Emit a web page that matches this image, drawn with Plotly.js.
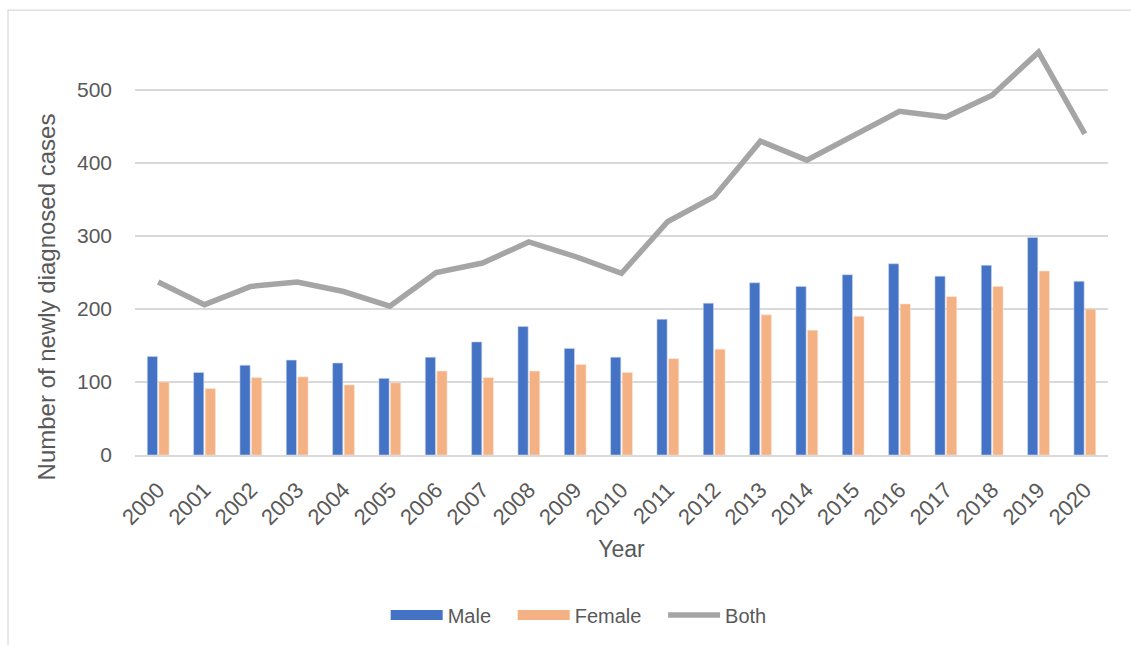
<!DOCTYPE html>
<html>
<head>
<meta charset="utf-8">
<script src="https://cdn.plot.ly/plotly-3.0.1.min.js"></script>
<style>
html,body{margin:0;padding:0;background:#fff;}
#chart{width:1131px;height:645px;}
</style>
</head>
<body>
<div id="chart"></div>
<script>
const years = ["2000","2001","2002","2003","2004","2005","2006","2007","2008","2009","2010","2011","2012","2013","2014","2015","2016","2017","2018","2019","2020"];
const male = [135,113,123,130,126,105,134,155,176,146,134,186,208,236,231,247,262,245,260,298,238];
const female = [100,91,106,107,96,99,115,106,115,124,113,132,145,192,171,190,207,217,231,252,200];
const both = [237,206,231,237,224,204,250,263,292,272,249,320,354,430,404,437,471,463,493,552,440];
const seriesNames = ["Male","Female","Both"];
const seriesColors = ["#4472C4","#F4B183","#A5A5A5"];
const yTitle = "Number of newly diagnosed cases";
const xTitle = "Year";

const fontFamily = '"Liberation Sans", Arial, sans-serif';
const textColor = '#595959';
const pad = '\u00a0\u00a0\u00a0';

const data = [
  {type:'bar', name:seriesNames[0], x:years, y:male, showlegend:false, marker:{color:seriesColors[0], line:{color:'#c9d6ee', width:0.6}}},
  {type:'bar', name:seriesNames[1], x:years, y:female, showlegend:false, marker:{color:seriesColors[1], line:{color:'#fbe2cf', width:0.6}}},
  {type:'scatter', mode:'lines', name:seriesNames[2], x:years, y:both, showlegend:false, line:{color:seriesColors[2], width:5.5}},
  // legend-only entries (wide rectangular swatches like the original)
  {type:'scatter', mode:'lines', name:seriesNames[0] + pad, x:[null], y:[null], line:{color:seriesColors[0], width:10}, hoverinfo:'skip'},
  {type:'scatter', mode:'lines', name:seriesNames[1] + pad, x:[null], y:[null], line:{color:seriesColors[1], width:10}, hoverinfo:'skip'},
  {type:'scatter', mode:'lines', name:seriesNames[2], x:[null], y:[null], line:{color:seriesColors[2], width:5.5}, hoverinfo:'skip'}
];

const layout = {
  width:1131, height:645,
  margin:{l:135, r:23, t:39, b:189},
  paper_bgcolor:'#fff', plot_bgcolor:'#fff',
  font:{family:fontFamily, color:textColor, size:20},
  barmode:'group', bargap:0.5, bargroupgap:0.12,
  showlegend:true,
  legend:{orientation:'h', x:0.456, xanchor:'center', y:-0.381, yanchor:'middle', font:{size:20, color:textColor}, traceorder:'normal', itemwidth:52},
  xaxis:{
    type:'category', tickangle:-45, showgrid:false, showline:true, linecolor:'#d9d9d9', linewidth:1.5,
    ticks:'', ticklabelstandoff:12, tickfont:{size:22, color:textColor},
    title:{text:xTitle, font:{size:23, color:textColor}, standoff:12}
  },
  yaxis:{
    range:[0,570], tickvals:[0,100,200,300,400,500], showgrid:true, gridcolor:'#d9d9d9', gridwidth:1.5,
    zeroline:false, showline:false, ticks:'', ticklabelstandoff:22, tickfont:{size:21, color:textColor}
  },
  annotations:[{text:yTitle, xref:'paper', yref:'paper', x:-0.0905, y:0.381, xanchor:'center', yanchor:'middle', textangle:-90, showarrow:false, font:{size:24, color:textColor}}],
  shapes:[{type:'rect', xref:'paper', yref:'paper', x0:-0.1305, x1:1.2, y0:-0.6, y1:1.0695, line:{color:'#d9d9d9', width:1.2}, fillcolor:'rgba(0,0,0,0)'}]
};

Plotly.newPlot('chart', data, layout, {displayModeBar:false, staticPlot:true});
</script>
</body>
</html>
